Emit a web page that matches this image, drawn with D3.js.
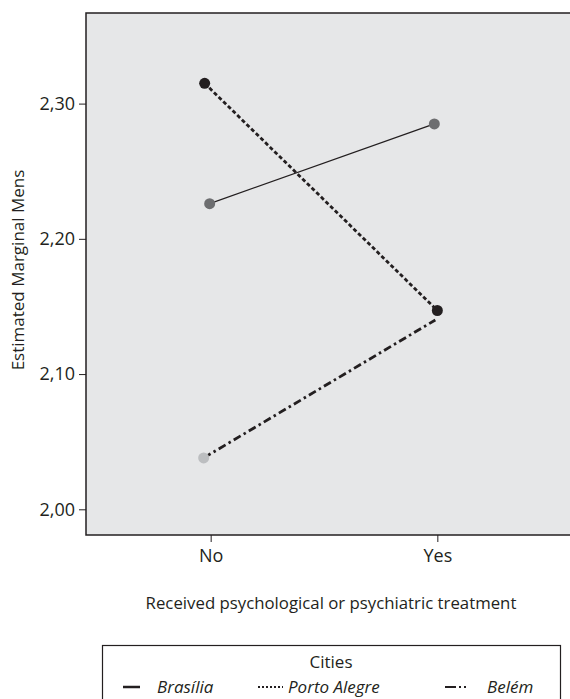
<!DOCTYPE html>
<html>
<head>
<meta charset="utf-8">
<script src="https://cdn.jsdelivr.net/npm/d3@7/dist/d3.min.js"></script>
<style>
  body { margin: 0; background: #fff; }
  text { font-family: "Open Sans", "DejaVu Sans", sans-serif; fill: #231f20; }
</style>
</head>
<body>
<div id="chart"></div>
<script>
const categories = ["No", "Yes"];
const cities = ["Brasília", "Porto Alegre", "Belém"];
const brasilia = [2.226, 2.285];
const portoAlegre = [2.315, 2.147];
const belem = [2.038, 2.140];
const yTicks = [2.00, 2.10, 2.20, 2.30];

const series = [
  { name: cities[0], values: brasilia, color: "#6d6e70", width: 1.2, dash: null, dx: [-1, -3], legendDash: null },
  { name: cities[1], values: portoAlegre, color: "#231f20", width: 2.8, dash: "4,2.5", dx: [-6, 0], legendDash: "2,2" },
  { name: cities[2], values: belem, color: "#bcbec0", width: 2.8, dash: "8,3.5,2.5,3.5", dx: [-7, -2], legendDash: "11,3,2,3,2,3" }
];

const W = 570, H = 699;
const plot = { left: 86, top: 13, right: 575, bottom: 535 };

const svg = d3.select("#chart").append("svg")
  .attr("width", W).attr("height", H);

const x = d3.scalePoint()
  .domain(categories)
  .range([plot.left, 562])
  .padding(0.55);

const y = d3.scaleLinear()
  .domain([1.981, 2.367])
  .range([plot.bottom, plot.top]);

const fmt = d3.formatLocale({ decimal: ",", thousands: ".", grouping: [3], currency: ["", ""] }).format(".2f");

// panel
svg.append("rect")
  .attr("x", plot.left).attr("y", plot.top)
  .attr("width", plot.right - plot.left).attr("height", plot.bottom - plot.top)
  .attr("fill", "#e6e7e8")
  .attr("stroke", "#231f20").attr("stroke-width", 1.5);

// y axis
const yAxis = svg.append("g")
  .attr("transform", `translate(${plot.left},0)`)
  .call(d3.axisLeft(y).tickValues(yTicks).tickFormat(fmt).tickSize(7).tickPadding(4));
yAxis.select(".domain").remove();
yAxis.selectAll("line").attr("stroke", "#231f20").attr("stroke-width", 1);
yAxis.selectAll("text").style("font-size", "18px").attr("fill", "#231f20");

// x axis
const xAxis = svg.append("g")
  .attr("transform", `translate(0,${plot.bottom})`)
  .call(d3.axisBottom(x).tickSize(7).tickPadding(7));
xAxis.select(".domain").remove();
xAxis.selectAll("line").attr("stroke", "#231f20").attr("stroke-width", 1);
xAxis.selectAll("text").style("font-size", "18px").attr("fill", "#231f20");

// axis titles
svg.append("text")
  .attr("transform", `translate(24,270) rotate(-90)`)
  .attr("text-anchor", "middle")
  .style("font-size", "17px")
  .text("Estimated Marginal Mens");

svg.append("text")
  .attr("x", 331).attr("y", 609)
  .attr("text-anchor", "middle")
  .style("font-size", "16.8px")
  .text("Received psychological or psychiatric treatment");

// lines
const line = d3.line()
  .x(d => x(d.cat) + d.dx)
  .y(d => y(d.v));

series.forEach(s => {
  const pts = s.values.map((v, i) => ({ cat: categories[i], v, dx: s.dx[i] }));
  svg.append("path")
    .datum(pts)
    .attr("d", line)
    .attr("fill", "none")
    .attr("stroke", "#231f20")
    .attr("stroke-width", s.width)
    .attr("stroke-dasharray", s.dash);
});

// markers (Belém "Yes" marker sits hidden behind Porto Alegre in the original)
series.forEach((s, si) => {
  s.values.forEach((v, i) => {
    if (si === 2 && i === 1) return;
    svg.append("circle")
      .attr("cx", x(categories[i]) + s.dx[i])
      .attr("cy", y(v))
      .attr("r", 5.5)
      .attr("fill", s.color);
  });
});

// legend
const lg = svg.append("g");
lg.append("rect")
  .attr("x", 102.5).attr("y", 645.5)
  .attr("width", 458).attr("height", 70)
  .attr("fill", "#fff")
  .attr("stroke", "#231f20").attr("stroke-width", 1.2);
lg.append("text")
  .attr("x", 331).attr("y", 668)
  .attr("text-anchor", "middle")
  .style("font-size", "17px")
  .text("Cities");

const legendPos = [
  { sx: 123, sw: 17, tx: 157 },
  { sx: 258, sw: 25, tx: 288 },
  { sx: 445, sw: 23, tx: 487 }
];
series.forEach((s, i) => {
  const p = legendPos[i];
  lg.append("line")
    .attr("x1", p.sx).attr("x2", p.sx + p.sw)
    .attr("y1", 687).attr("y2", 687)
    .attr("stroke", "#231f20")
    .attr("stroke-width", s.dash ? 2 : 2.5)
    .attr("stroke-dasharray", s.legendDash);
  lg.append("text")
    .attr("x", p.tx).attr("y", 693)
    .style("font-size", "17px")
    .style("font-style", "italic")
    .text(s.name);
});
</script>
</body>
</html>
